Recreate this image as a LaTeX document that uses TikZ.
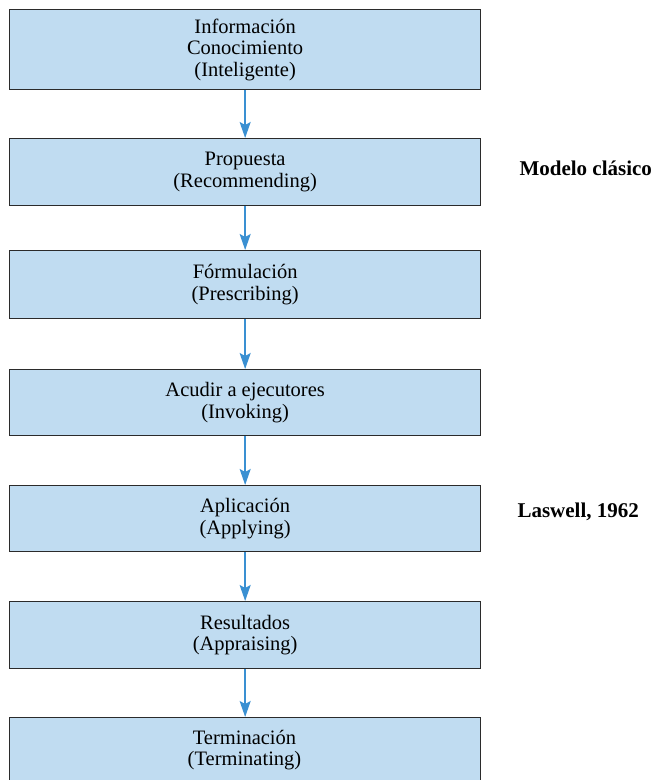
\documentclass[tikz,border=0pt]{standalone}
\usepackage{fontspec}
\setmainfont{Liberation Serif}
\usetikzlibrary{arrows.meta}
\definecolor{boxfill}{HTML}{C0DCF1}
\definecolor{boxline}{HTML}{2B2B2B}
\definecolor{flow}{HTML}{3A90D2}
\tikzset{
  stage/.style={draw=boxline, line width=1.3pt, fill=boxfill, minimum width=471pt,
    anchor=north west, inner sep=0pt, align=center, font=\fontsize{20.5}{21.5}\selectfont},
  flowarrow/.style={draw=flow, line width=1.7pt, -{Stealth[width=11pt,length=16pt,inset=3pt]}},
  sidelabel/.style={font=\fontsize{21}{22}\selectfont\bfseries, anchor=west}
}
\begin{document}
\begin{tikzpicture}[x=1pt,y=-1pt]
\useasboundingbox (0,0) rectangle (658,780);
\clip (0,0) rectangle (658,780);
\node[stage, minimum height=80pt] (s1) at (9,9) {Información\\Conocimiento\\(Inteligente)};
\node[stage, minimum height=67pt] (s2) at (9,138) {Propuesta\\(Recommending)};
\node[stage, minimum height=68pt] (s3) at (9,250) {Fórmulación\\(Prescribing)};
\node[stage, minimum height=66pt] (s4) at (9,369) {Acudir a ejecutores\\(Invoking)};
\node[stage, minimum height=66pt] (s5) at (9,485) {Aplicación\\(Applying)};
\node[stage, minimum height=67pt] (s6) at (9,601) {Resultados\\(Appraising)};
\node[stage, minimum height=86pt] (s7) at (9,717) {};
\node[align=center, font=\fontsize{20.5}{21.5}\selectfont] (t7) at (244.5,750) {Terminación\\(Terminating)};
\foreach \a/\b in {s1/s2,s2/s3,s3/s4,s4/s5,s5/s6,s6/s7}
  \draw[flowarrow] (\a.south) -- (\b.north);
\node[sidelabel] (m) at (516,168) {Modelo clásico};
\node[sidelabel] (l) at (514,512) {Laswell, 1962};
\end{tikzpicture}
\end{document}
